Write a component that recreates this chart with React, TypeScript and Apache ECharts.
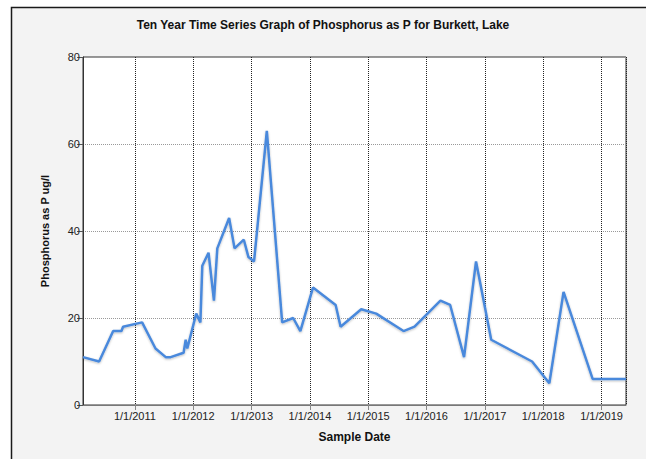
import React, { useEffect, useRef } from "react";
import * as echarts from "echarts";

const sampleDates: string[] = [
  "2010-02-10", "2010-05-22", "2010-08-18", "2010-10-09", "2010-10-19",
  "2011-02-15", "2011-05-10", "2011-07-13", "2011-08-13", "2011-11-02",
  "2011-11-15", "2011-11-25", "2012-01-20", "2012-02-15", "2012-02-27",
  "2012-04-06", "2012-05-10", "2012-05-31", "2012-08-13", "2012-09-16",
  "2012-11-13", "2012-12-12", "2013-01-16", "2013-04-06", "2013-07-11",
  "2013-09-18", "2013-11-02", "2014-01-20", "2014-06-11", "2014-07-12",
  "2014-11-18", "2015-02-20", "2015-08-10", "2015-10-18", "2016-03-28",
  "2016-05-28", "2016-08-23", "2016-11-06", "2017-02-09", "2017-10-23",
  "2018-02-08", "2018-05-08", "2018-11-06", "2019-06-03",
];

const phosphorus: number[] = [
  11, 10, 17, 17, 18,
  19, 13, 11, 11, 12,
  15, 13, 21, 19, 32,
  35, 24, 36, 43, 36,
  38, 34, 33, 63, 19,
  20, 17, 27, 23, 18,
  22, 21, 17, 18, 24,
  23, 11, 33, 15, 10,
  5, 26, 6, 6,
];

const yTicks: number[] = [0, 20, 40, 60, 80];

const titleText = "Ten Year Time Series Graph of Phosphorus as P for Burkett, Lake";
const yName = "Phosphorus as P ug/l";
const xName = "Sample Date";

const toTime = (s: string) => {
  const [y, m, d] = s.split("-").map(Number);
  return new Date(y, m - 1, d).getTime();
};

export default function App() {
  const ref = useRef<HTMLDivElement>(null);

  useEffect(() => {
    if (!ref.current) return;
    const chart = echarts.init(ref.current, undefined, { renderer: "svg" });
    const seriesData = sampleDates.map((d, i) => [toTime(d), phosphorus[i]]);
    const font = "'Liberation Sans', Arial, sans-serif";
    chart.setOption({
      animation: false,
      backgroundColor: "#ffffff",
      graphic: [
        {
          type: "rect",
          shape: { x: 11.5, y: 7.5, width: 700, height: 500 },
          style: { fill: "#f3f3f3", stroke: "#1a1a1a", lineWidth: 1.5 },
          z: -10,
          silent: true,
        },
      ],
      title: {
        text: titleText,
        left: "center",
        top: 14,
        textStyle: { fontFamily: font, fontSize: 12, fontWeight: "bold", color: "#111" },
      },
      grid: {
        left: 83,
        right: 20,
        top: 57,
        bottom: 54,
        show: true,
        backgroundColor: "#ffffff",
        borderColor: "#333",
        borderWidth: 1,
      },
      xAxis: {
        type: "time",
        min: "dataMin",
        max: "dataMax",
        splitNumber: 9,
        name: xName,
        nameLocation: "middle",
        nameGap: 26,
        nameTextStyle: { fontFamily: font, fontSize: 12, fontWeight: "bold", color: "#111" },
        axisLine: { show: true, lineStyle: { color: "#777", width: 1 } },
        axisTick: { show: true, length: 5, lineStyle: { color: "#888" } },
        axisLabel: {
          fontFamily: font,
          fontSize: 11,
          color: "#222",
          margin: 5,
          showMinLabel: false,
          showMaxLabel: false,
          formatter: (v: number) => {
            const d = new Date(v);
            return d.getMonth() === 0 && d.getDate() === 1 ? `1/1/${d.getFullYear()}` : "";
          },
        },
        splitLine: { show: true, lineStyle: { type: "dotted", color: "#222", width: 1 } },
      },
      yAxis: {
        type: "value",
        min: yTicks[0],
        max: yTicks[yTicks.length - 1],
        interval: yTicks[1] - yTicks[0],
        name: yName,
        nameLocation: "middle",
        nameGap: 33,
        nameTextStyle: { fontFamily: font, fontSize: 11, fontWeight: "bold", color: "#111" },
        axisLine: { show: true, lineStyle: { color: "#333", width: 1 } },
        axisTick: { show: true, length: 6, lineStyle: { color: "#555" } },
        axisLabel: { fontFamily: font, fontSize: 11, color: "#222", margin: 3 },
        splitLine: { show: true, lineStyle: { type: "dotted", color: "#999", width: 1 } },
      },
      series: [
        {
          type: "line",
          data: seriesData,
          showSymbol: false,
          symbol: "none",
          lineStyle: {
            color: "#4a89dc",
            width: 2.5,
            shadowColor: "rgba(0,0,0,0.25)",
            shadowBlur: 2,
            shadowOffsetY: 1,
          },
          itemStyle: { color: "#4a89dc" },
        },
      ],
    });
    return () => chart.dispose();
  }, []);

  return (
    <div
      ref={ref}
      style={{ position: "absolute", left: 0, top: 0, width: 646, height: 459 }}
    />
  );
}
